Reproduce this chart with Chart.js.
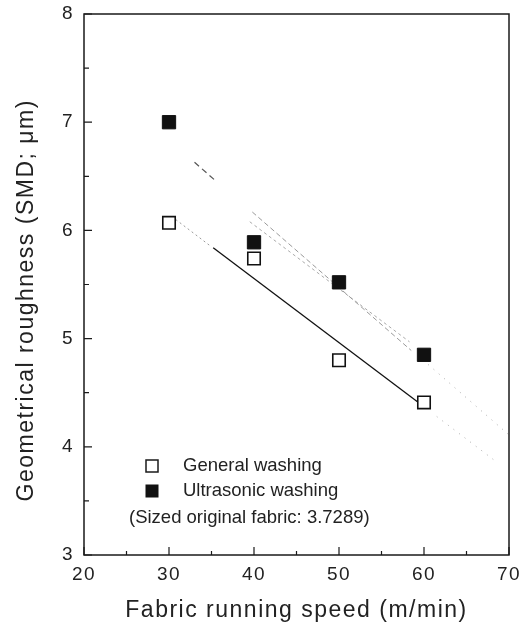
<!DOCTYPE html>
<html>
<head>
<meta charset="utf-8">
<script src="https://cdn.jsdelivr.net/npm/chart.js@4.4.1/dist/chart.umd.min.js"></script>
<style>
  html, body { margin: 0; padding: 0; background: #fff; }
  #wrap { width: 530px; height: 633px; position: relative; }
</style>
</head>
<body>
<div id="wrap"><canvas id="roughChart"></canvas></div>
<script>
// * data
const speed = [30, 40, 50, 60];
const generalWashing = [6.07, 5.74, 4.8, 4.41];
const ultrasonicWashing = [7.0, 5.89, 5.52, 4.85];
const legendLabels = ["General washing", "Ultrasonic washing"];
const legendNote = "(Sized original fabric: 3.7289)";

// ? fitted lines, end points
const genFitStartX = [30.8, 34.8];
const genFitStartY = [6.1, 5.86];
const genFitX = [35.2, 59.5];
const genFitY = [5.84, 4.4];
const genFitEndX = [61.5, 68.2];
const genFitEndY = [4.28, 3.88];
const ultFitAX = [33.0, 35.6];
const ultFitAY = [6.63, 6.45];
const ultFitBX = [39.8, 58.5];
const ultFitBY = [6.17, 4.89];
const ultFitCX = [60.5, 70];
const ultFitCY = [4.76, 4.11];
const midLineX = [39.5, 58.3];
const midLineY = [6.08, 4.97];

const toPts = (xs, ys) => xs.map((x, i) => ({ x: x, y: ys[i] }));

const lineSet = (xs, ys, color, width, dash) => ({
  data: toPts(xs, ys),
  showLine: true,
  borderColor: color,
  borderWidth: width,
  borderDash: dash,
  pointRadius: 0,
});

Chart.defaults.font.family = "'Liberation Sans', Arial, sans-serif";
Chart.defaults.color = "#222";

const frameTicks = {
  id: "frameTicks",
  beforeDraw(chart) {
    chart.ctx.letterSpacing = "1.5px";
  },
  afterDraw(chart) {
    const { ctx, chartArea: a } = chart;
    const x = chart.scales.x;
    const y = chart.scales.y;
    ctx.save();
    ctx.letterSpacing = "0px";
    ctx.strokeStyle = "#1a1a1a";
    ctx.lineWidth = 1.5;
    ctx.strokeRect(a.left, a.top, a.right - a.left, a.bottom - a.top);
    // inward ticks
    ctx.lineWidth = 1.2;
    ctx.beginPath();
    for (let v = 3; v <= 8; v += 0.5) {
      const py = y.getPixelForValue(v);
      const len = v % 1 === 0 ? 8 : 5;
      ctx.moveTo(a.left, py);
      ctx.lineTo(a.left + len, py);
    }
    for (let v = 20; v <= 70; v += 5) {
      const px = x.getPixelForValue(v);
      const len = v % 10 === 0 ? 8 : 4;
      ctx.moveTo(px, a.bottom);
      ctx.lineTo(px, a.bottom - len);
    }
    ctx.stroke();

    // * legend inside the plot
    const sx = a.left + 68;
    const tx = a.left + 99;
    const rows = [a.bottom - 89, a.bottom - 64];
    const s = 12;
    ctx.fillStyle = "#fff";
    ctx.fillRect(sx - s / 2, rows[0] - s / 2, s, s);
    ctx.lineWidth = 1.5;
    ctx.strokeRect(sx - s / 2, rows[0] - s / 2, s, s);
    ctx.fillStyle = "#111";
    ctx.fillRect(sx - s / 2 - 0.5, rows[1] - s / 2 - 0.5, s + 1, s + 1);
    ctx.font = "18.5px 'Liberation Sans', Arial, sans-serif";
    ctx.textBaseline = "middle";
    ctx.textAlign = "left";
    ctx.fillStyle = "#222";
    ctx.fillText(legendLabels[0], tx, rows[0]);
    ctx.fillText(legendLabels[1], tx, rows[1]);
    ctx.fillText(legendNote, a.left + 45, a.bottom - 37);
    ctx.restore();
  },
};

const ctx = document.getElementById("roughChart").getContext("2d");
const roughChart = new Chart(ctx, {
  type: "scatter",
  data: {
    datasets: [
      {
        label: legendLabels[1],
        data: toPts(speed, ultrasonicWashing),
        pointStyle: "rect",
        pointRadius: 9.4,
        backgroundColor: "#111",
        borderColor: "#111",
        borderWidth: 1,
      },
      {
        label: legendLabels[0],
        data: toPts(speed, generalWashing),
        pointStyle: "rect",
        pointRadius: 8.8,
        backgroundColor: "#fff",
        borderColor: "#111",
        borderWidth: 1.6,
      },
      lineSet(genFitX, genFitY, "#111", 1.3, []),
      lineSet(genFitStartX, genFitStartY, "#999", 1, [2, 3]),
      lineSet(genFitEndX, genFitEndY, "#aaa", 1, [1, 6]),
      lineSet(ultFitAX, ultFitAY, "#555", 1.2, [6, 4]),
      lineSet(ultFitBX, ultFitBY, "#999", 1, [5, 3]),
      lineSet(ultFitCX, ultFitCY, "#aaa", 1, [1, 6]),
      lineSet(midLineX, midLineY, "#aaa", 1, [3, 3]),
    ],
  },
  options: {
    responsive: true,
    maintainAspectRatio: false,
    animation: false,
    events: [],
    layout: { padding: { top: 14, right: 21, left: 0, bottom: 0 } },
    plugins: {
      legend: { display: false },
      tooltip: { enabled: false },
    },
    scales: {
      x: {
        type: "linear",
        min: 20,
        max: 70,
        grid: { display: false, drawTicks: false },
        border: { display: false },
        ticks: { stepSize: 10, padding: 8, font: { size: 19 }, color: "#222" },
        title: {
          display: true,
          text: "Fabric running speed (m/min)",
          font: { size: 23 },
          color: "#222",
          padding: { top: 0, bottom: 9 },
        },
        afterFit(scale) {
          scale.height = 78;
          scale.paddingLeft = 0;
          scale.paddingRight = 0;
        },
      },
      y: {
        type: "linear",
        min: 3,
        max: 8,
        grid: { display: false, drawTicks: false },
        border: { display: false },
        ticks: { stepSize: 1, padding: 10, font: { size: 19 }, color: "#222" },
        title: {
          display: true,
          text: "Geometrical roughness (SMD; \u03bcm)    ",
          font: { size: 23 },
          color: "#222",
          padding: { top: 13, bottom: 0 },
        },
        afterFit(scale) {
          scale.width = 84;
          scale.paddingTop = 0;
          scale.paddingBottom = 0;
        },
      },
    },
  },
  plugins: [frameTicks],
});
</script>
</body>
</html>
